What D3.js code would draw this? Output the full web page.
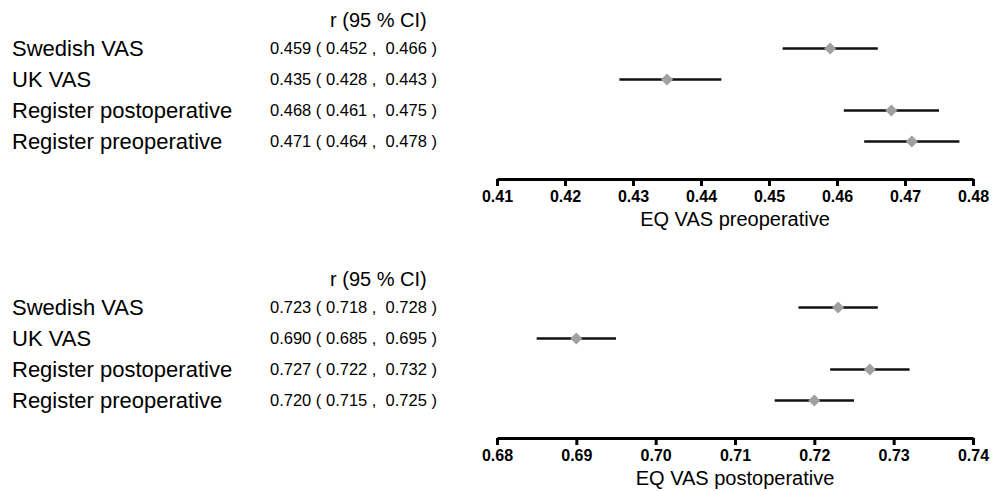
<!DOCTYPE html>
<html lang="en">
<head>
<meta charset="UTF-8">
<script src="https://d3js.org/d3.v7.min.js"></script>
<style>
  body { margin: 0; background: #fff; font-family: "Liberation Sans", Arial, sans-serif; }
  svg { display: block; }
</style>
</head>
<body>
<div id="chart"></div>
<script>
// categories, same for both panels
const labels = ["Swedish VAS", "UK VAS", "Register postoperative", "Register preoperative"];

// preoperative panel
const preR     = [0.459, 0.435, 0.468, 0.471];
const preLow   = [0.452, 0.428, 0.461, 0.464];
const preHigh  = [0.466, 0.443, 0.475, 0.478];
const preTicks = [0.41, 0.42, 0.43, 0.44, 0.45, 0.46, 0.47, 0.48];

// postoperative panel
const postR     = [0.723, 0.690, 0.727, 0.720];
const postLow   = [0.718, 0.685, 0.722, 0.715];
const postHigh  = [0.728, 0.695, 0.732, 0.725];
const postTicks = [0.68, 0.69, 0.70, 0.71, 0.72, 0.73, 0.74];

const svg = d3.select("#chart")
  .append("svg")
  .attr("width", 1002)
  .attr("height", 491);

function panel(top, r, lo, hi, ticks, title) {
  const g = svg.append("g").attr("transform", `translate(0, ${top})`);

  const x = d3.scaleLinear()
    .domain([ticks[0], ticks[ticks.length - 1]])
    .range([497, 973]);

  const y = d3.scalePoint()
    .domain(labels)
    .range([48.5, 141.5]);

  // header
  g.append("text")
    .attr("x", 330)
    .attr("y", 20)
    .attr("dy", "0.35em")
    .style("font-size", "20px")
    .text("r (95 % CI)");

  const rows = labels.map((l, i) => ({ label: l, r: r[i], lo: lo[i], hi: hi[i] }));

  g.selectAll(".lab")
    .data(rows)
    .enter()
    .append("text")
    .attr("x", 12)
    .attr("y", d => y(d.label))
    .attr("dy", "0.35em")
    .style("font-size", "22px")
    .text(d => d.label);

  g.selectAll(".val")
    .data(rows)
    .enter()
    .append("text")
    .attr("x", 270)
    .attr("y", d => y(d.label))
    .attr("dy", "0.35em")
    .style("font-size", "16.5px")
    .style("white-space", "pre")
    .text(d => d.r.toFixed(3) + " ( " + d.lo.toFixed(3) + " ,  " + d.hi.toFixed(3) + " )");

  // CI lines
  g.selectAll(".ci")
    .data(rows)
    .enter()
    .append("line")
    .attr("x1", d => x(d.lo))
    .attr("x2", d => x(d.hi))
    .attr("y1", d => y(d.label))
    .attr("y2", d => y(d.label))
    .attr("stroke", "#111")
    .attr("stroke-width", 2.5);

  // diamonds
  g.selectAll(".pt")
    .data(rows)
    .enter()
    .append("path")
    .attr("transform", d => `translate(${x(d.r)}, ${y(d.label)})`)
    .attr("d", "M0,-6L6,0L0,6L-6,0Z")
    .attr("fill", "#a0a0a0");

  // axis
  const ax = g.append("g")
    .attr("transform", "translate(0, 179)")
    .call(d3.axisBottom(x)
      .tickValues(ticks)
      .tickSizeOuter(0)
      .tickSizeInner(7)
      .tickPadding(5)
      .tickFormat(d3.format(".2f")));

  ax.select(".domain").attr("stroke", "#000").attr("stroke-width", 3);
  ax.selectAll(".tick line").attr("stroke", "#000").attr("stroke-width", 3);
  ax.selectAll(".tick text")
    .style("font-family", '"Liberation Sans", Arial, sans-serif')
    .style("font-size", "16px")
    .style("font-weight", "bold")
    .attr("fill", "#000");

  g.append("text")
    .attr("x", 735)
    .attr("y", 219)
    .attr("dy", "0.35em")
    .attr("text-anchor", "middle")
    .style("font-size", "20px")
    .text(title);
}

panel(0, preR, preLow, preHigh, preTicks, "EQ VAS preoperative");
panel(259, postR, postLow, postHigh, postTicks, "EQ VAS postoperative");
</script>
</body>
</html>
